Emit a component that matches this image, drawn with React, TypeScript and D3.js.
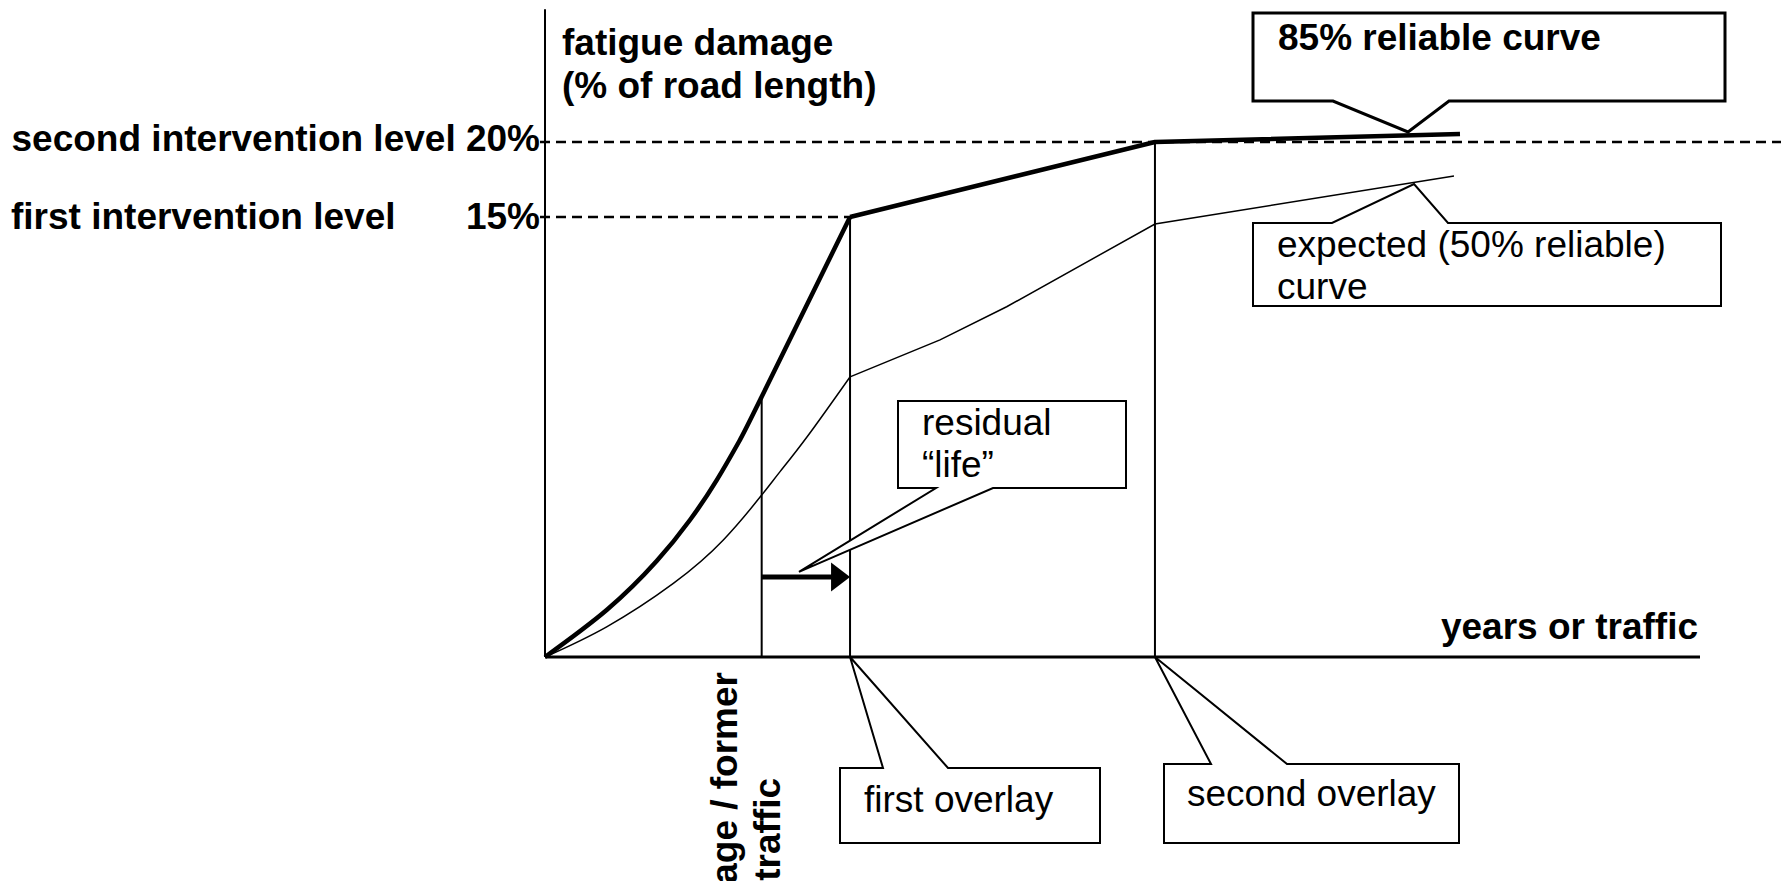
import React from "react";
import * as d3 from "d3";

const W = 1781;
const H = 881;
const FONT = "'Liberation Sans', Arial, Helvetica, sans-serif";
const FS = 37;

// x: years or traffic (arbitrary units 0..100), y: fatigue damage (% of road length)
const reliable85Curved: [number, number][] = [
  [0, 0], [5.34, 1.6], [9.67, 3.27], [12.55, 4.67], [14.87, 6.03], [16.88, 7.4], [18.76, 8.87], [26.41, 15],
];
const reliable85Straight: [number, number][] = [[26.41, 15], [52.81, 20], [79.22, 20.53]];
const expectedCurved: [number, number][] = [
  [0, 0], [5.34, 1.03], [11.11, 2.51], [15.44, 3.99], [18.76, 5.52], [20.35, 6.32], [22.68, 7.5], [26.41, 9.55],
];
const expectedStraight: [number, number][] = [[26.41, 9.55], [34.2, 10.81], [39.97, 11.94], [52.81, 14.76], [78.7, 17.73]];

const currentAge = 18.76;
const firstOverlay = 26.41;
const secondOverlay = 52.81;
const currentAgeDamage = 8.87;
const firstLevel = 15;
const secondLevel = 20;
const residualArrowLevel = 2.73;

const leftLabels = [
  { text: "second intervention level 20%", value: secondLevel, anchor: "end" },
  { text: "first intervention level", value: firstLevel, anchor: "start" },
  { text: "15%", value: firstLevel, anchor: "end" },
];

type Callout = {
  lines: string[];
  bold: boolean;
  box: [number, number, number, number];
  side: "top" | "bottom";
  bases: [number, number];
  tip: [number, number];
  textX: number;
  baselines: number[];
  sw: number;
};

const callouts: Callout[] = [
  { lines: ["85% reliable curve"], bold: true, box: [1253, 13, 1725, 101], side: "bottom", bases: [1333, 1449], tip: [74.72, 20.67], textX: 1278, baselines: [50], sw: 3 },
  { lines: ["expected (50% reliable)", "curve"], bold: false, box: [1253, 223, 1721, 306], side: "top", bases: [1332, 1448], tip: [75.24, 17.2], textX: 1277, baselines: [257, 299], sw: 2 },
  { lines: ["residual", "\u201Clife\u201D"], bold: false, box: [898, 401, 1126, 488], side: "bottom", bases: [936, 993], tip: [21.99, 2.9], textX: 922, baselines: [435, 477], sw: 2 },
  { lines: ["first overlay"], bold: false, box: [840, 768, 1100, 843], side: "top", bases: [883, 948], tip: [firstOverlay, 0], textX: 864, baselines: [812], sw: 2 },
  { lines: ["second overlay"], bold: false, box: [1164, 764, 1459, 843], side: "top", bases: [1211, 1287], tip: [secondOverlay, 0], textX: 1187, baselines: [806], sw: 2 },
];

export default function App() {
  const x = d3.scaleLinear().domain([0, 100]).range([545, 1700]);
  const y = d3.scaleLinear().domain([0, 15, 20, 29]).range([657, 217, 142, 7]);

  const curved = d3.line<[number, number]>().x((d) => x(d[0])).y((d) => y(d[1])).curve(d3.curveNatural);
  const straight = d3.line<[number, number]>().x((d) => x(d[0])).y((d) => y(d[1]));

  const calloutPath = (c: Callout) => {
    const [x1, y1, x2, y2] = c.box;
    const tx = x(c.tip[0]);
    const ty = y(c.tip[1]);
    const [b1, b2] = c.bases;
    if (c.side === "bottom") {
      return `M${x1},${y1}L${x2},${y1}L${x2},${y2}L${b2},${y2}L${tx},${ty}L${b1},${y2}L${x1},${y2}Z`;
    }
    return `M${x1},${y1}L${b1},${y1}L${tx},${ty}L${b2},${y1}L${x2},${y1}L${x2},${y2}L${x1},${y2}Z`;
  };

  const arrowY = y(residualArrowLevel);
  const headEnd = x(firstOverlay);
  const headStart = headEnd - 19;

  return (
    <svg
      width={W}
      height={H}
      style={{ position: "fixed", left: 0, top: 0, background: "#fff" }}
      fontFamily={FONT}
      fontSize={FS}
    >
      <rect x={0} y={0} width={W} height={H} fill="#fff" />

      {/* dashed intervention levels */}
      <line x1={x(0) - 5} x2={W} y1={y(secondLevel)} y2={y(secondLevel)} stroke="#000" strokeWidth={2.6} strokeDasharray="10,6" />
      <line x1={x(0) - 5} x2={x(firstOverlay)} y1={y(firstLevel)} y2={y(firstLevel)} stroke="#000" strokeWidth={2.6} strokeDasharray="10,6" />

      {/* axes */}
      <line x1={x(0)} x2={x(0)} y1={y(0)} y2={y(28.85)} stroke="#000" strokeWidth={2} />
      <line x1={x(0)} x2={x(100)} y1={y(0)} y2={y(0)} stroke="#000" strokeWidth={3} />

      {/* vertical event lines */}
      <line x1={x(currentAge)} x2={x(currentAge)} y1={y(0)} y2={y(currentAgeDamage)} stroke="#000" strokeWidth={2} />
      <line x1={x(firstOverlay)} x2={x(firstOverlay)} y1={y(0)} y2={y(firstLevel)} stroke="#000" strokeWidth={2} />
      <line x1={x(secondOverlay)} x2={x(secondOverlay)} y1={y(0)} y2={y(secondLevel)} stroke="#000" strokeWidth={2} />

      {/* expected curve (thin) */}
      <path d={curved(expectedCurved) || ""} fill="none" stroke="#000" strokeWidth={1.5} />
      <path d={straight(expectedStraight) || ""} fill="none" stroke="#000" strokeWidth={1.5} />

      {/* 85% reliable curve (thick) */}
      <path d={curved(reliable85Curved) || ""} fill="none" stroke="#000" strokeWidth={4.5} strokeLinejoin="round" />
      <path d={straight(reliable85Straight) || ""} fill="none" stroke="#000" strokeWidth={4.5} strokeLinejoin="round" />

      {/* residual life arrow */}
      <line x1={x(currentAge)} x2={headStart + 1} y1={arrowY} y2={arrowY} stroke="#000" strokeWidth={5} />
      <path d={`M${headStart},${arrowY - 14.5}L${headEnd},${arrowY}L${headStart},${arrowY + 14.5}Z`} fill="#000" />

      {/* callouts */}
      {callouts.map((c, i) => (
        <g key={i}>
          <path d={calloutPath(c)} fill="#fff" stroke="#000" strokeWidth={c.sw} strokeLinejoin="miter" />
          {c.lines.map((t, j) => (
            <text key={j} x={c.textX} y={c.baselines[j]} fontWeight={c.bold ? "bold" : "normal"}>
              {t}
            </text>
          ))}
        </g>
      ))}

      {/* axis titles */}
      <text x={562} y={55} fontWeight="bold">fatigue damage</text>
      <text x={562} y={98} fontWeight="bold">(% of road length)</text>
      <text x={1698} y={639} fontWeight="bold" textAnchor="end">years or traffic</text>

      {/* left labels */}
      {leftLabels.map((l, i) => (
        <text
          key={i}
          x={l.anchor === "end" ? 540 : 11}
          y={y(l.value) + 9 + (l.value === firstLevel ? 3 : 0)}
          fontWeight="bold"
          textAnchor={l.anchor}
        >
          {l.text}
        </text>
      ))}

      {/* rotated current age label (cut off at the bottom edge, as in the reference) */}
      <text transform={`translate(737,672) rotate(-90)`} fontWeight="bold" textAnchor="end">age / former</text>
      <text transform={`translate(780,778) rotate(-90)`} fontWeight="bold" textAnchor="end">traffic</text>
    </svg>
  );
}
